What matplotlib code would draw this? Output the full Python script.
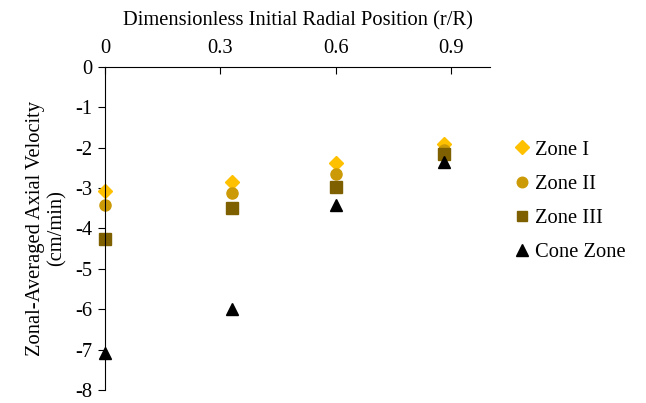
import matplotlib
matplotlib.use('Agg')
import matplotlib.pyplot as plt

plt.rcParams['font.family'] = ['Liberation Serif', 'DejaVu Serif']
plt.rcParams['axes.unicode_minus'] = False

# values
r_over_R = [0.0, 0.33, 0.6, 0.88]
zone_1 = [-3.08, -2.85, -2.39, -1.92]
zone_2 = [-3.42, -3.12, -2.66, -2.05]
zone_3 = [-4.25, -3.50, -2.97, -2.16]
cone_zone = [-7.08, -6.0, -3.42, -2.36]

x_ticks = [0, 0.3, 0.6, 0.9]
y_ticks = [0, -1, -2, -3, -4, -5, -6, -7, -8]

fs = 14.8

fig = plt.figure(figsize=(6.46, 4.03), dpi=100)
ax = fig.add_axes([0.1625, 0.032, 0.596, 0.8025])

ax.plot(r_over_R, zone_1, linestyle='none', marker='D', color='#FFC000', markersize=7.5, label='Zone I', clip_on=False)
ax.plot(r_over_R, zone_2, linestyle='none', marker='o', color='#CC9A06', markersize=8, label='Zone II', clip_on=False)
ax.plot(r_over_R, zone_3, linestyle='none', marker='s', color='#7F6000', markersize=8, label='Zone III', clip_on=False)
ax.plot(r_over_R, cone_zone, linestyle='none', marker='^', color='black', markersize=9, label='Cone Zone', clip_on=False)

ax.set_xlim(0, 1.0)
ax.set_ylim(-8, 0)
ax.set_xticks(x_ticks)
ax.set_xticklabels(['0', '0.3', '0.6', '0.9'])
ax.set_yticks(y_ticks)
ax.set_yticklabels([str(v) for v in y_ticks])

ax.xaxis.tick_top()
ax.xaxis.set_label_position('top')
ax.spines['bottom'].set_visible(False)
ax.spines['right'].set_visible(False)
ax.tick_params(axis='x', direction='in', length=5, labelsize=fs, pad=6)
ax.tick_params(axis='y', direction='out', length=5, labelsize=fs, pad=4)

ax.set_xlabel('Dimensionless Initial Radial Position (r/R)', fontsize=fs, labelpad=10)
ax.set_ylabel('Zonal-Averaged Axial Velocity\n(cm/min)', fontsize=fs, labelpad=6)

ax.legend(loc='upper left', bbox_to_anchor=(1.0, 0.83), frameon=False, fontsize=fs,
          handletextpad=0.0, labelspacing=0.72, handlelength=1.3, markerscale=0.95)

fig.savefig('out.png', dpi=100)
